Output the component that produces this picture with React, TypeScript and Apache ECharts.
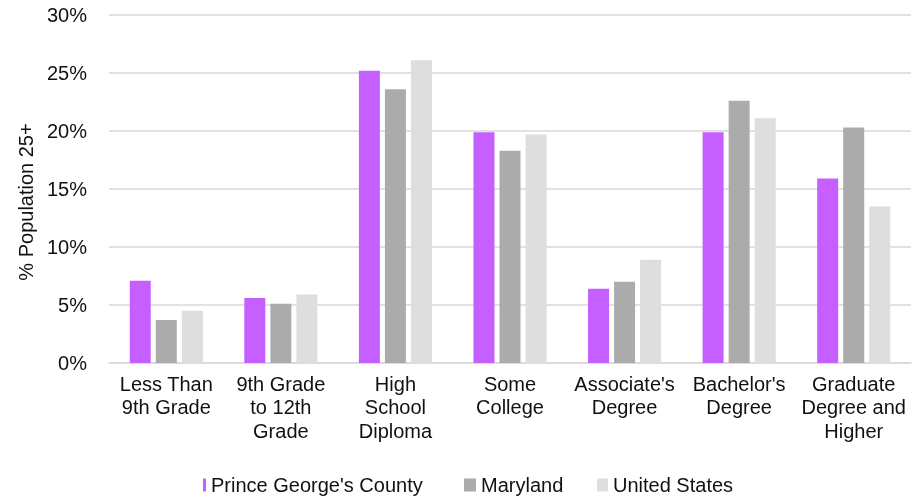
import React, { useEffect, useRef } from "react";
import * as echarts from "echarts";

const categories = [
  "Less Than\n9th Grade",
  "9th Grade\nto 12th\nGrade",
  "High\nSchool\nDiploma",
  "Some\nCollege",
  "Associate's\nDegree",
  "Bachelor's\nDegree",
  "Graduate\nDegree and\nHigher",
];
const seriesNames = ["Prince George's County", "Maryland", "United States"];
const princeGeorges = [7.1, 5.6, 25.2, 19.9, 6.4, 19.9, 15.9];
const maryland = [3.7, 5.1, 23.6, 18.3, 7.0, 22.6, 20.3];
const unitedStates = [4.5, 5.9, 26.1, 19.7, 8.9, 21.1, 13.5];
const yTicks = { min: 0, max: 30, interval: 5 };
const yAxisTitle = "% Population 25+";

const FONT = "'Liberation Sans', Arial, sans-serif";

export default function App() {
  const ref = useRef<HTMLDivElement>(null);
  useEffect(() => {
    if (!ref.current) return;
    const chart = echarts.init(ref.current, null, { renderer: "svg" });
    const colors = ["#c65fff", "#ababab", "#dedede"];
    const values = [princeGeorges, maryland, unitedStates];
    const legendBase = {
      top: 475,
      padding: 0,
      itemHeight: 13,
      icon: "rect",
      textStyle: { fontSize: 20, color: "#111", fontFamily: FONT },
    };
    chart.setOption({
      animation: false,
      textStyle: { fontFamily: FONT },
      grid: { left: 109, right: 4, top: 15, bottom: 135, containLabel: false },
      legend: [
        { ...legendBase, data: [seriesNames[0]], left: 203, itemWidth: 3 },
        { ...legendBase, data: [seriesNames[1]], left: 464, itemWidth: 12 },
        { ...legendBase, data: [seriesNames[2]], left: 597, itemWidth: 11 },
      ],
      xAxis: {
        type: "category",
        data: categories,
        axisTick: { show: false },
        axisLine: { show: true, lineStyle: { color: "#d9d9d9", width: 1.5 } },
        axisLabel: {
          interval: 0,
          fontSize: 20,
          lineHeight: 23.5,
          color: "#111",
          margin: 9,
          fontFamily: FONT,
        },
      },
      yAxis: {
        type: "value",
        min: yTicks.min,
        max: yTicks.max,
        interval: yTicks.interval,
        axisLine: { show: false },
        axisTick: { show: false },
        splitLine: { lineStyle: { color: "#d9d9d9", width: 1.5 } },
        axisLabel: {
          formatter: "{value}%",
          fontSize: 20,
          color: "#111",
          margin: 22,
          fontFamily: FONT,
        },
      },
      graphic: [
        {
          type: "text",
          x: 26,
          y: 202,
          rotation: Math.PI / 2,
          style: {
            text: yAxisTitle,
            fontSize: 20,
            fontFamily: FONT,
            fill: "#111",
            textAlign: "center",
            textVerticalAlign: "middle",
          },
        },
      ],
      series: seriesNames.map((name, i) => ({
        name,
        type: "bar",
        data: values[i],
        barWidth: 21,
        barGap: "24%",
        itemStyle: { color: colors[i] },
      })),
    });
    return () => chart.dispose();
  }, []);
  return (
    <div
      ref={ref}
      style={{ position: "fixed", left: 0, top: 0, width: 915, height: 498 }}
    />
  );
}
